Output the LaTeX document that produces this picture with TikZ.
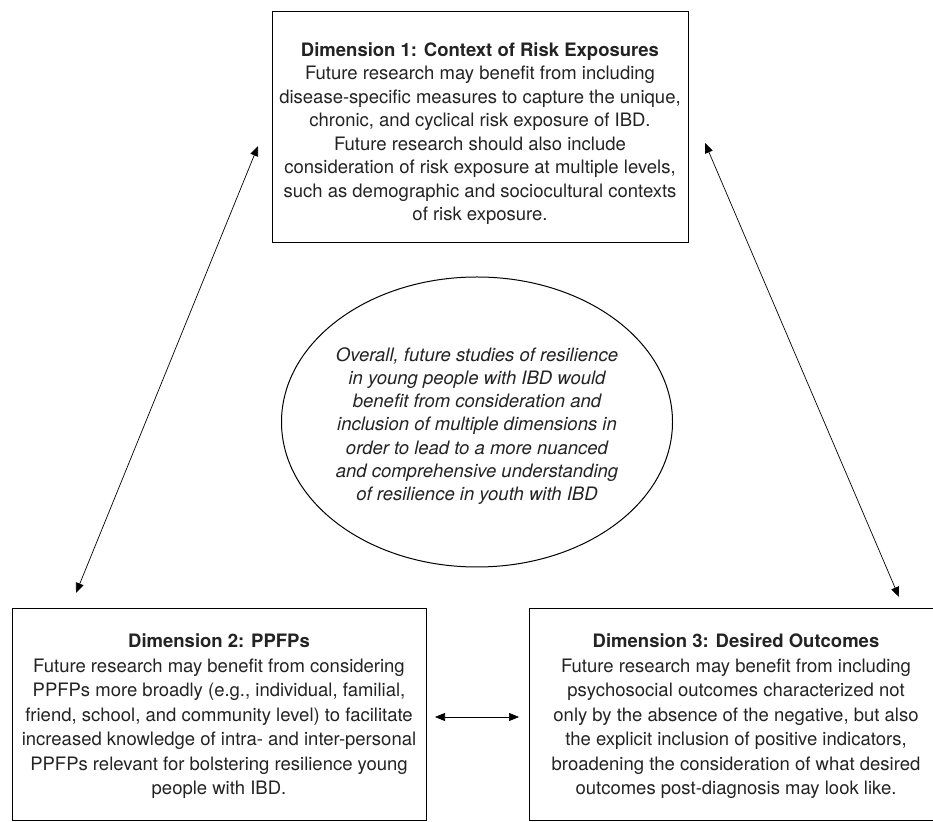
\documentclass[tikz,border=0pt]{standalone}
\usepackage{fontspec}
\setmainfont{TeX Gyre Heros}
\usetikzlibrary{shapes.geometric,arrows.meta}
\definecolor{txt}{RGB}{35,35,35}
\tikzset{
  frame/.style={draw=black, line width=1pt, rectangle, inner sep=0pt},
  words/.style={align=center, text=txt, font=\fontsize{18.5}{23.5}\selectfont, inner sep=0pt},
  lowwords/.style={words, font=\fontsize{18.5}{24.5}\selectfont},
  oval/.style={draw=black, line width=1pt, ellipse, inner sep=0pt},
  link/.style={line width=0.7pt, {Triangle[length=10pt,width=8pt]}-{Triangle[length=10pt,width=8pt]}}
}
\begin{document}
\begin{tikzpicture}[x=1pt,y=1pt]
\useasboundingbox (0,0) rectangle (933,821);
\clip (0,0) rectangle (933,821);
\fill[white] (0,0) rectangle (933,821);

\node[frame, minimum width=416pt, minimum height=231pt] (d1) at (480,693.5) {};
\node[words] (t1) at ([yshift=-6pt]d1.center)
  {\textbf{Dimension 1: Context of Risk Exposures}\\
   Future research may benefit from including\\
   disease-specific measures to capture the unique,\\
   chronic, and cyclical risk exposure of IBD.\\
   Future research should also include\\
   consideration of risk exposure at multiple levels,\\
   such as demographic and sociocultural contexts\\
   of risk exposure.};

\node[frame, minimum width=414pt, minimum height=211pt] (d2) at (219,106.5) {};
\node[lowwords] (t2) at ([yshift=-2pt]d2.center)
  {\textbf{Dimension 2: PPFPs}\\
   Future research may benefit from considering\\
   PPFPs more broadly (e.g., individual, familial,\\
   friend, school, and community level) to facilitate\\
   increased knowledge of intra- and inter-personal\\
   PPFPs relevant for bolstering resilience young\\
   people with IBD.};

\node[frame, minimum width=414pt, minimum height=211pt] (d3) at (736,106.5) {};
\node[lowwords] (t3) at ([yshift=-2pt]d3.center)
  {\textbf{Dimension 3: Desired Outcomes}\\
   Future research may benefit from including\\
   psychosocial outcomes characterized not\\
   only by the absence of the negative, but also\\
   the explicit inclusion of positive indicators,\\
   broadening the consideration of what desired\\
   outcomes post-diagnosis may look like.};

\node[oval, minimum width=391pt, minimum height=290pt] (ov) at (477,399) {};
\node[words, font=\fontsize{18.5}{23.2}\selectfont\itshape] (tv) at ([yshift=-4pt]ov.center)
  {Overall, future studies of resilience\\
   in young people with IBD would\\
   benefit from consideration and\\
   inclusion of multiple dimensions in\\
   order to lead to a more nuanced\\
   and comprehensive understanding\\
   of resilience in youth with IBD};

\coordinate (a1) at (258,675);
\coordinate (a2) at (76,228);
\coordinate (b1) at (705,678);
\coordinate (b2) at (899,224);
\coordinate (c1) at (435,104);
\coordinate (c2) at (519,104);

\draw[link] (a1) -- (a2);
\draw[link] (b1) -- (b2);
\draw[link] (c1) -- (c2);
\end{tikzpicture}
\end{document}
